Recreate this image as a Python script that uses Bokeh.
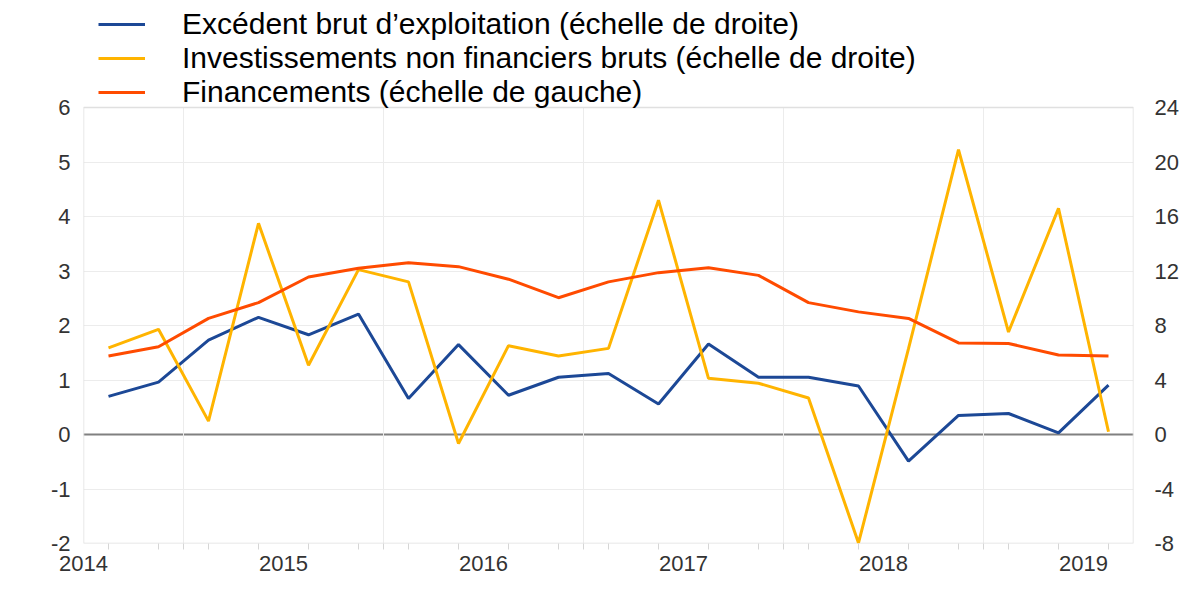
from bokeh.plotting import figure
from bokeh.models import Range1d, LinearAxis, FixedTicker, Span, Legend, LegendItem
from bokeh.embed import file_html
from bokeh.resources import INLINE

# ---- data (quarters, Q3 2014 .. Q3 2019) ----
quarters = ["2014T3", "2014T4",
            "2015T1", "2015T2", "2015T3", "2015T4",
            "2016T1", "2016T2", "2016T3", "2016T4",
            "2017T1", "2017T2", "2017T3", "2017T4",
            "2018T1", "2018T2", "2018T3", "2018T4",
            "2019T1", "2019T2", "2019T3"]

# right scale
excedent = [2.8, 3.84, 6.92, 8.6, 7.32, 8.84, 2.64, 6.6, 2.88, 4.2, 4.48,
            2.24, 6.64, 4.2, 4.2, 3.56, -1.96, 1.4, 1.54, 0.12, 3.62]
investissements = [6.36, 7.72, 0.98, 15.5, 5.08, 12.1, 11.2, -0.66, 6.52, 5.76, 6.32,
                   17.2, 4.12, 3.76, 2.68, -7.96, 6.3, 20.9, 7.52, 16.6, 0.2]
# left scale
financements = [1.44, 1.61, 2.13, 2.42, 2.89, 3.05, 3.15, 3.08, 2.85, 2.51, 2.80,
                2.97, 3.06, 2.92, 2.42, 2.25, 2.13, 1.68, 1.67, 1.46, 1.44]

years = [2014, 2015, 2016, 2017, 2018, 2019]
left_ticks = [-2, -1, 0, 1, 2, 3, 4, 5, 6]
right_ticks = [-8, -4, 0, 4, 8, 12, 16, 20, 24]

labels = ["Excédent brut d\u2019exploitation (échelle de droite)",
          "Investissements non financiers bruts (échelle de droite)",
          "Financements (échelle de gauche)"]
colors = ["#1c4896", "#ffb400", "#ff4b00"]

# ---- positions derived from quarters ----
x = list(range(len(quarters)))
first_year = int(quarters[0][:4])
first_q = int(quarters[0][-1])
def q1_index(y):
    return (y - first_year) * 4 - (first_q - 1)
year_centers = [q1_index(y) + 1.5 for y in years]
year_bounds = [q1_index(y) - 0.5 for y in years if q1_index(y) - 0.5 > -0.5]

FONT = "Liberation Sans"
TICK_SIZE = "22px"
TICK_COLOR = "#333333"

# layout geometry (pixels)
W, H = 1187, 594
LEFT, RIGHT = 83, 1133          # plot-area edges
TOP, BOTTOM = 107, 543          # plot-area edges (top = value 6)

lmin, lmax = min(left_ticks), max(left_ticks)
rmin, rmax = min(right_ticks), max(right_ticks)
px_per_left = (BOTTOM - TOP) / (lmax - lmin)
px_per_right = (BOTTOM - TOP) / (rmax - rmin)
# frame extends up to the top of the figure so that the legend can sit above the plot area
left_top = lmax + TOP / px_per_left
right_top = rmax + TOP / px_per_right

p = figure(width=W, height=H, output_backend="svg", toolbar_location=None,
           x_range=Range1d(-0.5, len(quarters) - 0.5),
           y_range=Range1d(lmin, left_top),
           min_border_left=LEFT, min_border_right=W - RIGHT,
           min_border_top=0, min_border_bottom=H - BOTTOM)
p.extra_y_ranges = {"right": Range1d(rmin, right_top)}

p.background_fill_color = "white"
p.border_fill_color = "white"
p.outline_line_color = None
p.xgrid.grid_line_color = None
p.ygrid.ticker = FixedTicker(ticks=left_ticks)
p.ygrid.grid_line_color = "#ececec"

# vertical year-boundary grid lines and plot-area border (limited to the value range)
p.segment(x0=year_bounds, y0=[lmin] * len(year_bounds), x1=year_bounds,
          y1=[lmax] * len(year_bounds), line_color="#ececec", line_width=1)
p.quad(left=[-0.5], right=[len(quarters) - 0.5], bottom=[lmin], top=[lmax],
       fill_alpha=0, line_color="#e0e0e0", line_width=1.5)

# x axis
xa = p.xaxis[0]
xa.ticker = FixedTicker(ticks=year_centers, minor_ticks=x + year_bounds)
xa.major_label_overrides = {c: str(y) for c, y in zip(year_centers, years)}
xa.major_tick_line_color = None
xa.major_tick_out = 0
xa.major_tick_in = 0
xa.minor_tick_out = 6
xa.minor_tick_in = 0
xa.minor_tick_line_color = "#d6d6d6"
xa.axis_line_color = None
xa.major_label_standoff = 6
xa.major_label_text_font = FONT
xa.major_label_text_font_size = TICK_SIZE
xa.major_label_text_color = TICK_COLOR

# left y axis
ya = p.yaxis[0]
ya.ticker = FixedTicker(ticks=left_ticks)
ya.major_label_overrides = {t: str(t) for t in left_ticks}
ya.major_tick_line_color = None
ya.minor_tick_line_color = None
ya.major_tick_out = 0
ya.major_tick_in = 0
ya.axis_line_color = None
ya.major_label_standoff = 13
ya.major_label_text_font = FONT
ya.major_label_text_font_size = TICK_SIZE
ya.major_label_text_color = TICK_COLOR

# right y axis
ra = LinearAxis(y_range_name="right", ticker=FixedTicker(ticks=right_ticks))
ra.major_label_overrides = {t: str(t) for t in right_ticks}
ra.major_tick_line_color = None
ra.minor_tick_line_color = None
ra.major_tick_out = 0
ra.major_tick_in = 0
ra.axis_line_color = None
ra.major_label_standoff = 21
ra.major_label_text_font = FONT
ra.major_label_text_font_size = TICK_SIZE
ra.major_label_text_color = TICK_COLOR
p.add_layout(ra, "right")

# zero line
p.add_layout(Span(location=0, dimension="width", line_color="#808080", line_width=2,
                  level="underlay"))

# series
r_exc = p.line(x, excedent, y_range_name="right", line_color=colors[0], line_width=3)
r_inv = p.line(x, investissements, y_range_name="right", line_color=colors[1], line_width=3)
r_fin = p.line(x, financements, line_color=colors[2], line_width=3)

legend = Legend(items=[LegendItem(label=labels[0], renderers=[r_exc]),
                       LegendItem(label=labels[1], renderers=[r_inv]),
                       LegendItem(label=labels[2], renderers=[r_fin])],
                location=(15, BOTTOM - TOP - 2))
legend.padding = 0
legend.margin = 0
legend.spacing = -1
legend.label_height = 32
legend.glyph_height = 32
legend.glyph_width = 47
legend.label_standoff = 37
legend.label_text_font = FONT
legend.label_text_font_size = "30px"
legend.label_text_color = "black"
legend.background_fill_alpha = 0
legend.border_line_color = None
p.add_layout(legend)

open("out.html", "w").write(file_html(p, INLINE))
